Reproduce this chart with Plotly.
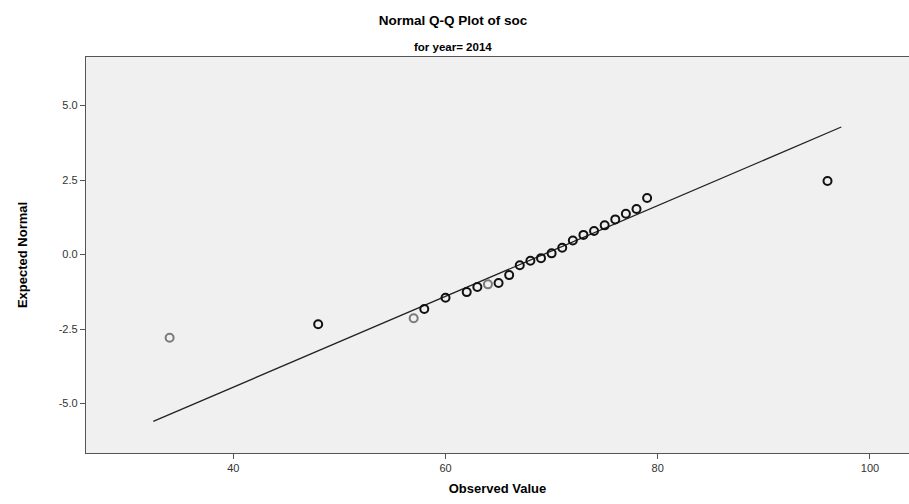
import plotly.graph_objects as go

# Observed values (soc, year 2014) and their expected normal quantiles
observed = [34, 48, 57, 58, 60, 62, 63, 64, 65, 66, 67, 68, 69, 70, 71,
            72, 73, 74, 75, 76, 77, 78, 79, 96]
expected = [-2.79, -2.34, -2.14, -1.83, -1.45, -1.26, -1.09, -1.00, -0.955,
            -0.69, -0.36, -0.21, -0.12, 0.04, 0.23, 0.47, 0.66, 0.79, 0.98,
            1.18, 1.37, 1.53, 1.90, 2.47]
# cases sharing each observed value (single cases render lighter in the original)
case_counts = [1, 2, 1, 2, 2, 2, 2, 1, 2, 2, 2, 2, 2, 2, 2,
               2, 2, 2, 2, 2, 2, 2, 2, 2]

# reference line end points
line_x = [32.46, 97.3]
line_y = [-5.60, 4.28]

x_ticks = [40, 60, 80, 100]
y_ticks = [-5.0, -2.5, 0.0, 2.5, 5.0]
y_tick_labels = ["-5.0", "-2.5", "0.0", "2.5", "5.0"]

title_text = "Normal Q-Q Plot of soc"
subtitle_text = "for year= 2014"
x_title = "Observed Value"
y_title = "Expected Normal"

colors = ["#111111" if c > 1 else "#7a7a7a" for c in case_counts]

fig = go.Figure()
fig.add_trace(go.Scatter(
    x=line_x, y=line_y, mode="lines",
    line=dict(color="#222222", width=1.3),
    hoverinfo="skip", showlegend=False,
))
fig.add_trace(go.Scatter(
    x=observed, y=expected, mode="markers",
    marker=dict(symbol="circle-open", size=8, color=colors,
                line=dict(width=2, color=colors)),
    showlegend=False,
))

fig.update_layout(
    width=909, height=504,
    paper_bgcolor="white",
    plot_bgcolor="#F0F0F0",
    margin=dict(l=86, r=0, t=57, b=51),
    title=dict(text=title_text, x=453 / 909, xanchor="center", xref="container",
               y=1 - 20 / 504, yanchor="middle", yref="container",
               font=dict(family="Liberation Sans, Arial, sans-serif",
                         size=13.5, color="#000000", weight="bold")),
    annotations=[dict(text=subtitle_text, xref="paper", yref="paper",
                      x=(453 - 86) / 823, y=1 + (57 - 47) / 396,
                      xanchor="center", yanchor="middle", showarrow=False,
                      font=dict(family="Liberation Sans Narrow, Arial Narrow, Liberation Sans, sans-serif",
                                size=11.5, color="#000000", weight="bold"))],
    xaxis=dict(
        range=[26.12, 103.68], tickvals=x_ticks, ticktext=[str(v) for v in x_ticks],
        showgrid=False, zeroline=False,
        showline=True, linecolor="#555555", linewidth=1.3, mirror=True,
        ticks="outside", ticklen=5, tickwidth=1.3, tickcolor="#555555",
        tickfont=dict(family="Liberation Sans, Arial, sans-serif", size=11, color="#333333"),
        title=dict(text=x_title, standoff=10,
                   font=dict(family="Liberation Sans, Arial, sans-serif",
                             size=13, color="#000000", weight="bold")),
    ),
    yaxis=dict(
        range=[-6.66, 6.63], tickvals=y_ticks, ticktext=y_tick_labels,
        showgrid=False, zeroline=False,
        showline=True, linecolor="#555555", linewidth=1.3, mirror=False,
        ticks="outside", ticklen=5, tickwidth=1.3, tickcolor="#555555",
        tickfont=dict(family="Liberation Sans, Arial, sans-serif", size=11, color="#333333"),
        title=dict(text=y_title, standoff=28,
                   font=dict(family="Liberation Sans Narrow, Arial Narrow, Liberation Sans, sans-serif",
                             size=13, color="#000000", weight="bold")),
    ),
)

fig.write_html("out.html", config={"displayModeBar": False},
               post_script="document.body.style.margin='0px';")
